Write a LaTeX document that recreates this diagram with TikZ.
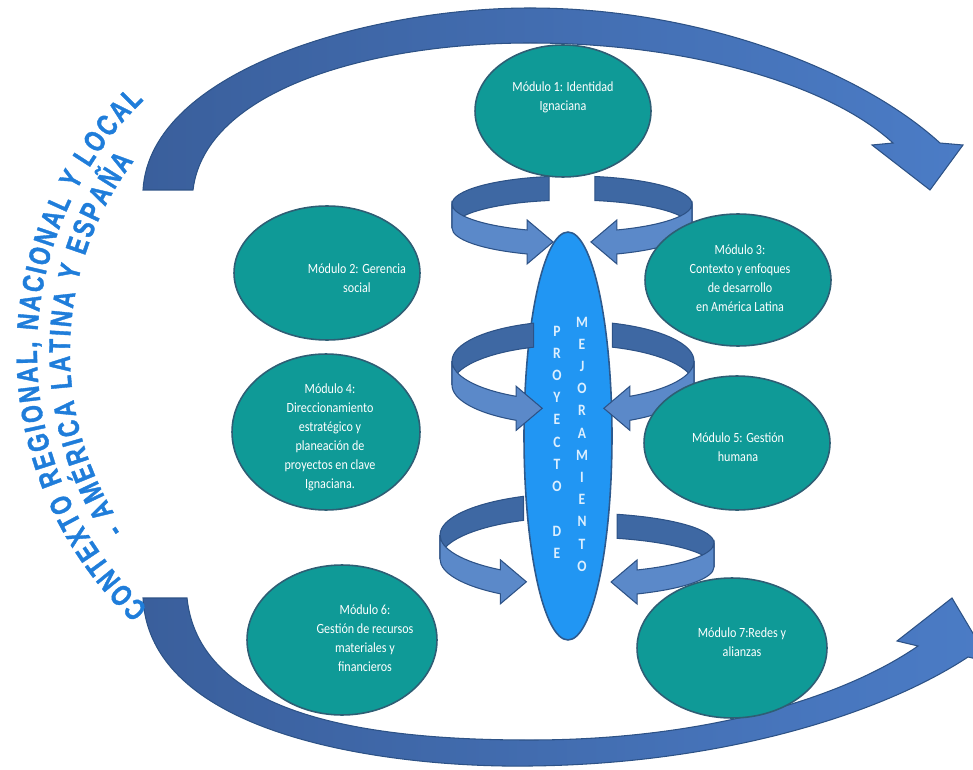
\documentclass[tikz,border=0pt]{standalone}
\usepackage{fontspec}
\setmainfont{Carlito}[FakeStretch=0.86]
\newfontfamily\arcfont[FakeStretch=0.76,FakeBold=1.2]{Liberation Sans}
\usetikzlibrary{shapes.geometric,decorations.text}

\definecolor{modfill}{HTML}{0F9A97}
\definecolor{modline}{HTML}{2E5E74}
\definecolor{pmfill}{HTML}{2196F3}
\definecolor{pmline}{HTML}{2D5A8E}
\definecolor{pmtext}{HTML}{DCEFFF}
\definecolor{ringdark}{HTML}{3E68A3}
\definecolor{ringlight}{HTML}{5B89C9}
\definecolor{ringline}{HTML}{2D5286}
\definecolor{bigL}{HTML}{3A5F9C}
\definecolor{bigR}{HTML}{4B7CC6}
\definecolor{arcblue}{HTML}{1F7DDA}

\tikzset{
  modulo/.style={ellipse, draw=modline, line width=0.9pt, fill=modfill, inner sep=0pt},
  modtext/.style={text=white, align=center, font=\fontsize{8}{10.8}\selectfont},
  pmletter/.style={text=pmtext, font=\bfseries\fontsize{9}{9}\selectfont, inner sep=0pt},
  bigarrow/.style={draw=ringline, line width=0.6pt, left color=bigL, right color=bigR}
}

% curved ribbon arrow: x radius, y radius, tail angle, head angle
\newcommand{\ringarrow}[4]{%
  \filldraw[fill=ringdark, draw=ringline, line width=0.6pt] (#3:#1 and #2)
    arc[start angle=#3, end angle=180, x radius=#1, y radius=#2] -- ++(0,24)
    arc[start angle=180, end angle=#3, x radius=#1, y radius=#2] -- cycle;
  \filldraw[fill=ringlight, draw=ringline, line width=0.6pt] (180:#1 and #2)
    arc[start angle=180, end angle=#4, x radius=#1, y radius=#2]
    -- ++(0,-10) -- ++(26,22) -- ++(-26,22) -- ++(0,-10)
    arc[start angle=#4, end angle=180, x radius=#1, y radius=#2] -- cycle;
}

\begin{document}
\begin{tikzpicture}[x=0.02cm, y=-0.02cm]
\useasboundingbox (0,0) rectangle (973,770);

% big arrows
\path[bigarrow] (143,190) .. controls (150,70) and (370,8) .. (530,8)
  .. controls (700,8) and (860,70) .. (940,143) -- (963,145) -- (930,190)
  -- (872,145) -- (893,143) .. controls (830,85) and (690,43) .. (530,43)
  .. controls (370,43) and (205,90) .. (193,190) -- cycle;
\path[bigarrow] (143,598) .. controls (150,740) and (400,768) .. (530,766)
  .. controls (720,764) and (880,715) .. (968,657) -- (990,662) -- (952,598)
  -- (897,641) -- (918,646) .. controls (840,700) and (700,740) .. (530,740)
  .. controls (380,740) and (200,720) .. (187,598) -- cycle;

% context text
\path[decorate, decoration={text along path, text align={fit to path},
  text={|\arcfont\bfseries\fontsize{17}{17}\selectfont\color{arcblue}|CONTEXTO REGIONAL, NACIONAL  Y LOCAL}}]
  (387,352) ++(133:350) arc[start angle=133, end angle=226, radius=350];
\path[decorate, decoration={text along path, text align={fit to path},
  text={|\arcfont\bfseries\fontsize{17}{17}\selectfont\color{arcblue}|- AMÉRICA LATINA Y ESPAÑA}}]
  (387,352) ++(146:317) arc[start angle=146, end angle=217, radius=317];

% proyecto de mejoramiento
\node[ellipse, draw=pmline, line width=0.9pt, fill=pmfill, inner sep=0pt,
  minimum width=1.76cm, minimum height=8.16cm] (pm) at (568,436) {};
\foreach \ch [count=\i from 0] in {P,R,O,Y,E,C,T,O}
  \node[pmletter] (pro\i) at (557,331+22.2*\i) {\ch};
\foreach \ch [count=\i from 0] in {D,E}
  \node[pmletter] (de\i) at (557,531+22.2*\i) {\ch};
\foreach \ch [count=\i from 0] in {M,E,J,O,R,A,M,I,E,N,T,O}
  \node[pmletter] (mej\i) at (582,322+22.2*\i) {\ch};

% ribbon arrows
\begin{scope}[shift={(572,204)}] \ringarrow{120}{28}{259}{112} \end{scope}
\begin{scope}[shift={(572,204)}, xscale=-1] \ringarrow{120}{28}{259}{112} \end{scope}
\begin{scope}[shift={(573,361)}] \ringarrow{121}{40}{251}{118} \end{scope}
\begin{scope}[shift={(573,361)}, xscale=-1] \ringarrow{121}{40}{251}{118} \end{scope}
\begin{scope}[shift={(577,535)}] \ringarrow{137}{42}{247}{124} \end{scope}
\begin{scope}[shift={(577,543)}, xscale=-1] \ringarrow{137}{30}{253}{116} \end{scope}

% modules
\node[modulo, minimum width=3.52cm, minimum height=2.64cm] (m1) at (563,111) {};
\node[modulo, minimum width=3.72cm, minimum height=2.68cm] (m2) at (327,273) {};
\node[modulo, minimum width=3.72cm, minimum height=2.64cm] (m3) at (738,280) {};
\node[modulo, minimum width=3.76cm, minimum height=3.12cm] (m4) at (326,432) {};
\node[modulo, minimum width=3.72cm, minimum height=2.68cm] (m5) at (737,443) {};
\node[modulo, minimum width=3.8cm, minimum height=3cm] (m6) at (342,640) {};
\node[modulo, minimum width=3.8cm, minimum height=2.8cm] (m7) at (732,648) {};

\node[modtext] (t1) at (563,97) {Módulo 1: Identidad\\Ignaciana};
\node[modtext] (t2) at (357,278) {Módulo 2: Gerencia\\social};
\node[modtext] (t3) at (740,278) {Módulo 3:\\Contexto y enfoques\\de desarrollo\\en América Latina};
\node[modtext] (t4) at (330,437) {Módulo 4:\\Direccionamiento\\estratégico y\\planeación de\\proyectos en clave\\Ignaciana.};
\node[modtext] (t5) at (738,447) {Módulo 5: Gestión\\humana};
\node[modtext] (t6) at (365,638) {Módulo 6:\\Gestión de recursos\\materiales y\\financieros};
\node[modtext] (t7) at (742,642) {Módulo 7:Redes y\\alianzas};
\end{tikzpicture}
\end{document}
